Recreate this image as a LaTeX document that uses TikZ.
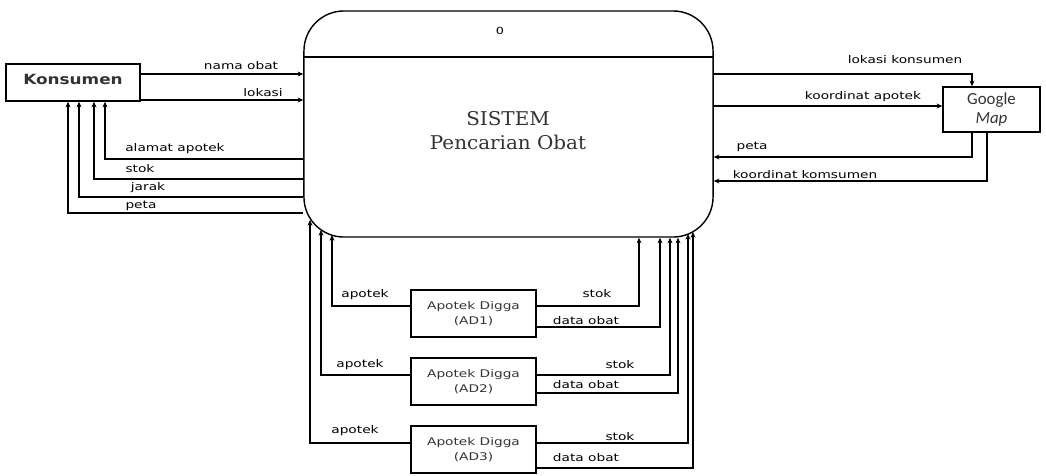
\documentclass[tikz,border=0pt]{standalone}
\usepackage{fontspec}
\usetikzlibrary{arrows.meta}
\newfontfamily\labfont[FakeStretch=1.3]{DejaVu Sans}
\newfontfamily\konfont[FakeStretch=1.2]{DejaVu Sans}
\newfontfamily\sysfont[FakeStretch=1.05]{DejaVu Serif}
\newfontfamily\gfont{Carlito}
\tikzset{
  box/.style={draw, line width=1.1pt, inner sep=0pt},
  flow/.style={line width=0.8pt},
  arr/.style={flow, -{Stealth[length=4pt,width=3.5pt]}},
  lab/.style={font=\labfont\fontsize{7.5}{9}\selectfont, inner sep=0pt},
}
\begin{document}
\begin{tikzpicture}[x=0.025cm, y=-0.025cm]
\useasboundingbox (0,0) rectangle (1046,475);
% main process
\node[draw, line width=1pt, rounded corners=1cm, minimum width=10.225cm, minimum height=5.65cm, inner sep=0pt] (main) at (508.5,124) {};
\draw[line width=1.1pt] (main.west |- 0,57) -- (main.east |- 0,57);
\node[font=\labfont\fontsize{7}{8}\selectfont] (num) at (500,31) {0};
\node[font=\sysfont\fontsize{13.5}{17}\selectfont, text=black!80, align=center] (sys) at (508,131) {SISTEM\\Pencarian Obat};
% external entities
\node[box, minimum width=3.35cm, minimum height=0.925cm] (kons) at (73,82.5) {};
\node[font=\konfont\bfseries\fontsize{10}{12}\selectfont, text=black!80] (konst) at (73,79) {Konsumen};
\node[box, minimum width=2.425cm, minimum height=1.125cm, align=center, font=\gfont\fontsize{12}{13.5}\selectfont, text=black!80] (goog) at (991.5,109.5) {Google\\\itshape Map};
\foreach \n/\y in {1/313.5,2/381.5,3/449.5}{
  \node[box, minimum width=3.125cm, minimum height=1.175cm, align=center, font=\labfont\fontsize{7.5}{10.5}\selectfont, text=black!80] (ad\n) at (473.5,\y) {Apotek Digga\\(AD\n)};
}
% end points on the rounded corners of the main process
\coordinate (mL1) at (332,235);
\coordinate (mL2) at (321,230);
\coordinate (mL3) at (310,220);
\coordinate (mR5) at (688,234);
\coordinate (mR6) at (693,232);
% Konsumen <-> system
\draw[arr] (kons.east |- 0,74) -- (main.west |- 0,74);
\draw[arr] (kons.east |- 0,100) -- (main.west |- 0,100);
\draw[arr] (main.west |- 0,159) -| (kons.south -| 105,0);
\draw[arr] (main.west |- 0,179) -| (kons.south -| 94,0);
\draw[arr] (main.west |- 0,197) -| (kons.south -| 79,0);
\draw[arr] (main.west |- 0,213) -| (kons.south -| 68,0);
\node[lab] at (241,66) {nama obat};
\node[lab] at (263,93) {lokasi};
\node[lab] at (175,149) {alamat apotek};
\node[lab] at (140,169) {stok};
\node[lab] at (148,188) {jarak};
\node[lab] at (141,206) {peta};
% system <-> Google Map
\draw[arr] (main.east |- 0,74) -| (goog.north -| 972,0);
\draw[arr] (main.east |- 0,106) -- (goog.west |- 0,106);
\draw[arr] (goog.south -| 972,0) |- (main.east |- 0,157);
\draw[arr] (goog.south -| 987,0) |- (main.east |- 0,181);
\node[lab] at (905,60) {lokasi konsumen};
\node[lab] at (863,97) {koordinat apotek};
\node[lab] at (752,147) {peta};
\node[lab] at (805,175) {koordinat komsumen};
% apotek -> system (left)
\draw[arr] (ad1.west |- 0,306) -| (mL1);
\draw[arr] (ad2.west |- 0,375) -| (mL2);
\draw[arr] (ad3.west |- 0,443) -| (mL3);
\node[lab] at (365,295) {apotek};
\node[lab] at (360,365) {apotek};
\node[lab] at (355,431) {apotek};
% apotek -> system (right)
\draw[arr] (ad1.east |- 0,306) -| (main.south -| 639,0);
\draw[arr] (ad1.east |- 0,327) -| (main.south -| 660,0);
\draw[arr] (ad2.east |- 0,375) -| (main.south -| 670,0);
\draw[arr] (ad2.east |- 0,393) -| (main.south -| 678,0);
\draw[arr] (ad3.east |- 0,443) -| (mR5);
\draw[arr] (ad3.east |- 0,468) -| (mR6);
\node[lab] at (597,294) {stok};
\node[lab] at (586,321) {data obat};
\node[lab] at (620,365) {stok};
\node[lab] at (586,385) {data obat};
\node[lab] at (620,437) {stok};
\node[lab] at (586,458) {data obat};
\end{tikzpicture}
\end{document}
